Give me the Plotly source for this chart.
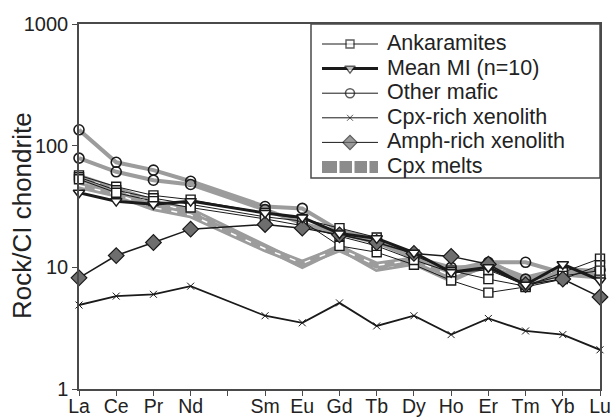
import plotly.graph_objects as go

# Chondrite-normalised REE patterns
slots = ["La", "Ce", "Pr", "Nd", "Pm", "Sm", "Eu", "Gd", "Tb", "Dy", "Ho", "Er", "Tm", "Yb", "Lu"]
slot_labels = ["La", "Ce", "Pr", "Nd", "", "Sm", "Eu", "Gd", "Tb", "Dy", "Ho", "Er", "Tm", "Yb", "Lu"]
ree = ["La", "Ce", "Pr", "Nd", "Sm", "Eu", "Gd", "Tb", "Dy", "Ho", "Er", "Tm", "Yb", "Lu"]

ankaramites = [
    [57, 46, 39, 36, 28, 25, 21, 17.6, 12.5, 9.4, 8.0, 7.0, 9.1, 11.8],
    [55, 43, 37, 33, 26, 24, 15, 13.3, 10.5, 7.8, 6.2, 6.9, 8.0, 10.4],
    [53, 41, 35, 31, 25, 22, 18, 15.0, 11.5, 9.1, 9.5, 7.2, 8.5, 9.4],
]
mean_mi = [41, 35, 33, 35, 28, 25.7, 19, 17.3, 13.2, 9.1, 10, 7.2, 10.6, 7.8]
other_mafic = [
    [135, 73, 63, 51, 31.6, 30.5, 20, 17, 12, 9.5, 11, 11, 9, 9.5],
    [79, 61, 52, 48, 29.8, 23, 19, 16, 12, 10, 10, 8, 9, 8.5],
]
cpx_xenolith = [4.9, 5.8, 6.0, 7.0, 4.0, 3.5, 5.1, 3.3, 4.0, 2.8, 3.8, 3.0, 2.8, 2.1]
amph_xenolith = [8.2, 12.5, 16, 20.6, 22.5, 21, 18.5, 16, 13, 12.3, 10.6, 7.2, 8.0, 5.7]
cpx_melts = [
    [55, 44, 34, 29, 14.6, 10.4, 14.6, 9.8, 11, 8, 11, 7.5, 9, 8.5],
    [47, 40, 31, 27, 14.2, 10.8, 14.2, 10.4, 11.5, 8.5, 10.5, 8, 9.5, 9],
]

legend_labels = ["Ankaramites", "Mean MI (n=10)", "Other mafic",
                 "Cpx-rich xenolith", "Amph-rich xenolith", "Cpx melts"]

x = [slots.index(e) for e in ree]

INK = "#1a1a1a"
GREY = "#9c9c9c"
FRAME = "#4a4a4a"
FONT = "Liberation Sans, Arial, sans-serif"

# figure geometry (pixels)
W, H = 613, 417
L, R, T, B = 79, 13, 24, 28
PW, PH = W - L - R, H - T - B


def px(xp):
    return (xp - L) / PW


def py(yp):
    return (H - B - yp) / PH


styles = {
    "ank": dict(line=dict(color=INK, width=1),
                marker=dict(symbol="square", size=9, color="white", line=dict(color=INK, width=1.4))),
    "mi": dict(line=dict(color=INK, width=3),
               marker=dict(symbol="triangle-down", size=10, color="white", line=dict(color=INK, width=1.5))),
    "mafic": dict(line=dict(color=GREY, width=4),
                  marker=dict(symbol="circle-open", size=10, color=INK, line=dict(width=1.6))),
    "cpx": dict(line=dict(color=INK, width=1.8),
                marker=dict(symbol="x-thin", size=7, color=INK, line=dict(color=INK, width=1))),
    "amph": dict(line=dict(color=INK, width=1.5),
                 marker=dict(symbol="diamond", size=12, color="#6e6e6e", line=dict(color=INK, width=1.2))),
}

fig = go.Figure()

# Cpx melts: thick grey band with a white dashed centre
for ys in cpx_melts:
    fig.add_trace(go.Scatter(x=x, y=ys, mode="lines", line=dict(color=GREY, width=7),
                             cliponaxis=False))
    fig.add_trace(go.Scatter(x=x, y=ys, mode="lines",
                             line=dict(color="white", width=1.5, dash="6px,10px"),
                             hoverinfo="skip"))

for ys in other_mafic:
    fig.add_trace(go.Scatter(x=x, y=ys, mode="lines+markers", cliponaxis=False, **styles["mafic"]))

for ys in ankaramites:
    fig.add_trace(go.Scatter(x=x, y=ys, mode="lines+markers", cliponaxis=False, **styles["ank"]))

fig.add_trace(go.Scatter(x=x, y=cpx_xenolith, mode="lines+markers", cliponaxis=False, **styles["cpx"]))
fig.add_trace(go.Scatter(x=x, y=amph_xenolith, mode="lines+markers", cliponaxis=False, **styles["amph"]))
fig.add_trace(go.Scatter(x=x, y=mean_mi, mode="lines+markers", cliponaxis=False, **styles["mi"]))

# ---- boxed key in the upper right corner ----
box_l, box_t, box_b = 311, 24, 178
key_l, key_r, txt_l = 322, 378, 386
row0, row_gap = 44.0, 24.6
shapes = [dict(type="rect", xref="paper", yref="paper",
               x0=px(box_l), x1=1.0, y0=py(box_b), y1=py(box_t),
               fillcolor="white", line=dict(color=FRAME, width=1.5), layer="below")]
annotations = []
keys = ["ank", "mi", "mafic", "cpx", "amph"]
for i, label in enumerate(legend_labels):
    yr = row0 + i * row_gap
    annotations.append(dict(xref="paper", yref="paper", x=px(txt_l), y=py(yr - 1),
                            xanchor="left", yanchor="middle", showarrow=False,
                            borderpad=0, text=label,
                            font=dict(family=FONT, size=21.5, color="#222")))
    if i < len(keys):
        st = styles[keys[i]]
        fig.add_trace(go.Scatter(
            x=[px(key_l), px((key_l + key_r) / 2), px(key_r)], y=[py(yr)] * 3,
            xaxis="x2", yaxis="y2", mode="lines+markers", cliponaxis=False,
            line=dict(color=INK if keys[i] == "mafic" else st["line"]["color"],
                      width=1 if keys[i] in ("mafic", "ank", "cpx", "amph") else 3),
            marker=dict(st["marker"], size=[0, st["marker"]["size"] - 1, 0]),
            hoverinfo="skip"))
    else:
        # grey band key with white breaks
        shapes.append(dict(type="rect", xref="paper", yref="paper",
                           x0=px(key_l), x1=px(key_r), y0=py(yr + 6), y1=py(yr - 6),
                           fillcolor="#8c8c8c", line=dict(width=0), layer="above"))
        for xb in (337, 352, 367):
            shapes.append(dict(type="rect", xref="paper", yref="paper",
                               x0=px(xb), x1=px(xb + 2.5), y0=py(yr + 6), y1=py(yr - 6),
                               fillcolor="white", line=dict(width=0), layer="above"))

axis_common = dict(
    showline=True, linecolor=FRAME, linewidth=1.5, mirror=True,
    ticks="outside", ticklen=5, tickcolor=FRAME, tickwidth=1.2,
    showgrid=False, zeroline=False, automargin=False,
)

fig.update_layout(
    width=W, height=H,
    margin=dict(l=L, r=R, t=T, b=B),
    paper_bgcolor="white", plot_bgcolor="white",
    font=dict(family=FONT, color="#222"),
    showlegend=False,
    xaxis=dict(range=[0, 14], tickmode="array", tickvals=list(range(len(slots))),
               ticktext=slot_labels, ticklabelstandoff=-6,
               tickfont=dict(family=FONT, size=19.5, color="#222"), **axis_common),
    yaxis=dict(type="log", range=[0, 3], tickmode="array", tickvals=[1, 10, 100, 1000],
               ticktext=["1", "10", "100", "1000"],
               tickfont=dict(family=FONT, size=20, color="#222"), **axis_common),
    xaxis2=dict(overlaying="x", range=[0, 1], visible=False),
    yaxis2=dict(overlaying="y", range=[0, 1], visible=False),
    shapes=shapes,
    annotations=annotations + [dict(
        xref="paper", yref="paper", x=px(22), y=py(216), xanchor="center", yanchor="middle",
        textangle=-90, showarrow=False, text="Rock/CI chondrite",
        font=dict(family=FONT, size=26, color="#222"))],
)

fig.write_html("out.html")
